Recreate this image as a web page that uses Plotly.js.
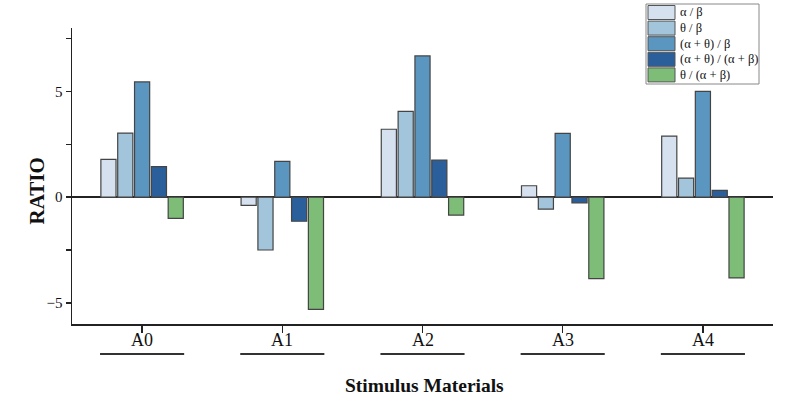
<!DOCTYPE html>
<html><head><meta charset="utf-8">
<script src="https://cdn.plot.ly/plotly-3.0.1.min.js"></script>
<style>html,body{margin:0;padding:0;background:#fff}</style>
</head><body>
<div id="chart" style="width:800px;height:411px"></div>
<script>
var categories = ["A0", "A1", "A2", "A3", "A4"];
var seriesNames = ["α / β", "θ / β", "(α + θ) / β", "(α + θ) / (α + β)", "θ / (α + β)"];
var alphaBeta = [1.79, -0.39, 3.21, 0.54, 2.89];
var thetaBeta = [3.03, -2.50, 4.06, -0.57, 0.90];
var alphaThetaBeta = [5.45, 1.69, 6.68, 3.02, 5.00];
var alphaThetaAlphaBeta = [1.44, -1.14, 1.75, -0.27, 0.32];
var thetaAlphaBeta = [-1.00, -5.31, -0.85, -3.85, -3.82];
var seriesValues = [alphaBeta, thetaBeta, alphaThetaBeta, alphaThetaAlphaBeta, thetaAlphaBeta];
var colors = ["#d5e1ef", "#a2c5db", "#5a96c0", "#2a5f9b", "#7dbd78"];

var font = "Liberation Serif, Times New Roman, serif";
var W = 800, H = 411, M = {l: 72, r: 27, t: 28, b: 87};
var pw = W - M.l - M.r, ph = H - M.t - M.b;
function px(x) { return (x - M.l) / pw; }
function py(y) { return (H - M.b - y) / ph; }

var traces = seriesValues.map(function (vals, i) {
  return {
    type: "bar", name: seriesNames[i], x: categories, y: vals, showlegend: false,
    marker: {color: colors[i], line: {color: "#444", width: 1.2}}
  };
});

var shapes = categories.map(function (c, i) {
  return {type: "line", xref: "x", yref: "paper", x0: i - 0.3, x1: i + 0.3,
          y0: py(354), y1: py(354), line: {color: "#333", width: 2}};
});
var annotations = categories.map(function (c, i) {
  return {xref: "x", yref: "paper", x: i, y: py(340), text: c, showarrow: false,
          xanchor: "center", yanchor: "middle", font: {family: font, size: 18, color: "#111"}};
});
annotations.push({xref: "paper", yref: "paper", x: px(36.5), y: py(191), text: "<b>RATIO</b>",
                  textangle: -90, showarrow: false, xanchor: "center", yanchor: "middle",
                  font: {family: font, size: 21, color: "#111"}});
annotations.push({xref: "paper", yref: "paper", x: px(424), y: py(385), text: "<b>Stimulus Materials</b>",
                  showarrow: false, xanchor: "center", yanchor: "middle",
                  font: {family: font, size: 19.5, color: "#111"}});

// custom legend box
shapes.push({type: "rect", xref: "paper", yref: "paper", x0: px(646), x1: px(759),
             y0: py(84), y1: py(4), fillcolor: "#fff", line: {color: "#888", width: 1}, layer: "above"});
seriesNames.forEach(function (n, i) {
  var top = 5.5 + i * 15.6;
  shapes.push({type: "rect", xref: "paper", yref: "paper", x0: px(648), x1: px(675),
               y0: py(top + 14), y1: py(top), fillcolor: colors[i],
               line: {color: "#555", width: 1}, layer: "above"});
  annotations.push({xref: "paper", yref: "paper", x: px(677.5), y: py(top + 7), text: n,
                    showarrow: false, xanchor: "left", yanchor: "middle",
                    font: {family: font, size: 12.5, color: "#111"}});
});

var layout = {
  width: W, height: H,
  margin: M,
  paper_bgcolor: "#fff", plot_bgcolor: "#fff",
  font: {family: font, color: "#111", size: 14},
  barmode: "group", bargap: 0.4, bargroupgap: 0.1,
  showlegend: false,
  xaxis: {
    type: "category", range: [-0.5, 4.5], showline: true, linecolor: "#222", linewidth: 1.5,
    ticks: "outside", ticklen: 7, tickcolor: "#222", tickwidth: 1.5,
    showticklabels: false,
    showgrid: false, zeroline: false, automargin: false
  },
  yaxis: {
    range: [-6, 8], dtick: 5, tick0: 0, showline: true, linecolor: "#222", linewidth: 1.5,
    ticks: "outside", ticklen: 5, tickcolor: "#222", tickwidth: 1.5,
    minor: {dtick: 2.5, tick0: 0, ticks: "outside", ticklen: 5, tickcolor: "#222", tickwidth: 1.5},
    tickfont: {family: font, size: 15, color: "#111"},
    showgrid: false, zeroline: true, zerolinecolor: "#222", zerolinewidth: 1.5, automargin: false
  },
  shapes: shapes,
  annotations: annotations
};

Plotly.newPlot("chart", traces, layout, {displayModeBar: false, staticPlot: true});
</script>
</body></html>
